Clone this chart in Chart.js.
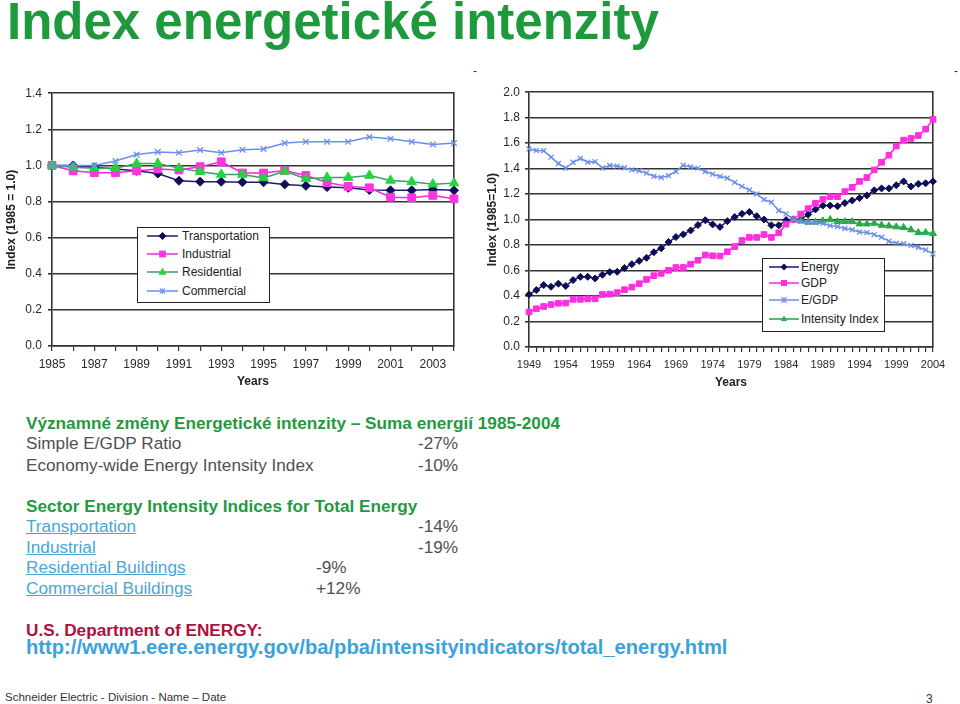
<!DOCTYPE html>
<html>
<head>
<meta charset="utf-8">
<script src="https://cdn.jsdelivr.net/npm/chart.js@4.4.1/dist/chart.umd.min.js"></script>
<style>
  html, body { margin:0; padding:0; background:#fff; }
  body { width:960px; height:704px; position:relative; overflow:hidden; font-family:"Liberation Sans", Arial, sans-serif; }
  .abs { position:absolute; white-space:nowrap; }
  .t17 { font-size:17.2px; line-height:20px; }
  .green { color:#1f9a3f; font-weight:bold; }
  .gray { color:#505050; }
  .link { color:#49a6d6; text-decoration:underline; }
  .legend { position:absolute; background:#fff; border:1px solid #222; font-size:12px; color:#222; }
  .legend .row { position:absolute; left:0; height:14px; line-height:14px; white-space:nowrap; }
  .legend svg { position:absolute; top:0; }
</style>
</head>
<body>
<div class="abs" style="left:7px;top:-7px;font-size:51px;line-height:57px;font-weight:bold;color:#1e9a3c;">Index energetické intenzity</div>
<div class="abs" style="left:473px;top:64px;font-size:12px;color:#333;">-</div>
<div class="abs" style="left:954px;top:64px;font-size:12px;color:#333;">-</div>

<div class="abs" style="left:0;top:80px;width:470px;height:312px;"><canvas id="c1" width="470" height="312"></canvas></div>
<div class="abs" style="left:476px;top:80px;width:484px;height:312px;"><canvas id="c2" width="484" height="312"></canvas></div>

<div class="legend" id="lg1" style="left:137px;top:227px;width:131px;height:74px;"></div>
<div class="legend" id="lg2" style="left:762px;top:258px;width:121px;height:72px;"></div>

<div class="abs t17 green" style="left:26px;top:413px;">Významné změny Energetické intenzity – Suma energií 1985-2004</div>
<div class="abs t17 gray" style="left:26px;top:433px;">Simple E/GDP Ratio</div>
<div class="abs t17 gray" style="left:418px;top:433px;">-27%</div>
<div class="abs t17 gray" style="left:26px;top:455px;">Economy-wide Energy Intensity Index</div>
<div class="abs t17 gray" style="left:418px;top:455px;">-10%</div>

<div class="abs t17 green" style="left:26px;top:496px;">Sector Energy Intensity Indices for Total Energy</div>
<div class="abs t17 link" style="left:26px;top:516px;">Transportation</div>
<div class="abs t17 gray" style="left:418px;top:516px;">-14%</div>
<div class="abs t17 link" style="left:26px;top:537px;">Industrial</div>
<div class="abs t17 gray" style="left:418px;top:537px;">-19%</div>
<div class="abs t17 link" style="left:26px;top:557px;">Residential Buildings</div>
<div class="abs t17 gray" style="left:316px;top:557px;">-9%</div>
<div class="abs t17 link" style="left:26px;top:578px;">Commercial Buildings</div>
<div class="abs t17 gray" style="left:316px;top:578px;">+12%</div>

<div class="abs t17" style="left:26px;top:620px;font-weight:bold;color:#b0103c;">U.S. Department of ENERGY:</div>
<div class="abs" style="left:26px;top:636px;font-size:20.2px;line-height:23px;font-weight:bold;color:#3ba2da;">http://www1.eere.energy.gov/ba/pba/intensityindicators/total_energy.html</div>

<div class="abs" style="left:5px;top:689px;font-size:11.5px;line-height:16px;color:#333;">Schneider Electric - Division - Name – Date</div>
<div class="abs" style="left:926px;top:691px;font-size:12px;line-height:16px;color:#333;">3</div>

<script>
// ---------- data: left chart (sectors, 1985 = 1.0) ----------
const sectorYears = ['1985','1986','1987','1988','1989','1990','1991','1992','1993','1994','1995','1996','1997','1998','1999','2000','2001','2002','2003','2004'];
const transportation = [1.00,1.00,0.99,0.98,0.97,0.955,0.915,0.91,0.91,0.907,0.907,0.895,0.887,0.88,0.876,0.864,0.862,0.862,0.867,0.862];
const industrial     = [1.00,0.97,0.96,0.96,0.97,0.98,0.975,0.993,1.02,0.958,0.958,0.972,0.944,0.905,0.884,0.876,0.824,0.821,0.834,0.815];
const residential    = [1.00,0.99,0.985,0.985,1.01,1.01,0.985,0.965,0.95,0.95,0.93,0.967,0.926,0.933,0.933,0.944,0.917,0.909,0.896,0.902];
const commercial     = [1.00,1.00,1.00,1.025,1.06,1.075,1.07,1.085,1.07,1.087,1.091,1.124,1.131,1.131,1.131,1.157,1.148,1.131,1.116,1.124];
const leftYTicks = [0.0,0.2,0.4,0.6,0.8,1.0,1.2,1.4];

// ---------- data: right chart (economy-wide, 1985 = 1.0) ----------
const econYears = [];
for (let y = 1949; y <= 2004; y++) econYears.push(String(y));
const energy = [0.413,0.447,0.486,0.473,0.497,0.479,0.525,0.551,0.551,0.538,
                0.567,0.588,0.59,0.62,0.65,0.676,0.70,0.744,0.775,0.824,
                0.863,0.884,0.915,0.957,0.995,0.962,0.942,0.988,1.02,1.045,
                1.06,1.027,1.0,0.955,0.955,0.996,1.0,1.0,1.04,1.08,
                1.11,1.11,1.105,1.13,1.15,1.17,1.19,1.23,1.245,1.245,
                1.27,1.30,1.26,1.28,1.285,1.30];
const gdp = [0.275,0.30,0.318,0.333,0.343,0.345,0.374,0.374,0.378,0.378,
             0.412,0.415,0.427,0.45,0.47,0.497,0.53,0.56,0.578,0.602,
             0.624,0.624,0.65,0.681,0.722,0.716,0.714,0.748,0.788,0.836,
             0.86,0.86,0.883,0.86,0.896,0.964,1.0,1.044,1.086,1.128,
             1.159,1.18,1.18,1.22,1.253,1.30,1.33,1.39,1.45,1.506,
             1.577,1.624,1.637,1.66,1.71,1.786];
const eGdp = [1.555,1.543,1.54,1.49,1.44,1.405,1.45,1.48,1.45,1.455,
              1.405,1.425,1.42,1.407,1.39,1.383,1.365,1.34,1.33,1.345,
              1.378,1.427,1.414,1.404,1.378,1.357,1.339,1.326,1.292,1.261,
              1.232,1.201,1.157,1.136,1.071,1.045,1.0,0.984,0.976,0.976,
              0.97,0.953,0.945,0.93,0.92,0.903,0.898,0.882,0.862,0.83,
              0.815,0.81,0.797,0.783,0.762,0.731];
const intensityStart = 1985;
const intensityIndex = [1.0,0.99,0.98,0.98,0.99,1.0,0.984,0.984,0.984,0.966,0.966,0.971,0.956,0.95,0.943,0.938,0.92,0.898,0.898,0.891];
const rightYTicks = [0.0,0.2,0.4,0.6,0.8,1.0,1.2,1.4,1.6,1.8,2.0];

// ---------- styling ----------
const FONT = '"Liberation Sans", Arial, sans-serif';
const GRID = '#333333';
const S = {
  transportation: {label:'Transportation', color:'#1c1c70', point:'#0d0d5a', style:'rectRot', r:4.5, rSmall:4},
  industrial:     {label:'Industrial', color:'#f02ad8', point:'#ff33e0', style:'rect', r:5.5, rSmall:4.5},
  residential:    {label:'Residential', color:'#3c9c6a', point:'#22d63a', style:'triangle', r:5.5, rSmall:4.5},
  commercial:     {label:'Commercial', color:'#6a8ff0', point:'#6a8ff0', style:'crossRot', r:4, rSmall:3.5},
  energy:         {label:'Energy', color:'#1a1a66', point:'#0d0d55', style:'rectRot', r:3.5, rSmall:3.5},
  gdp:            {label:'GDP', color:'#f02ad8', point:'#ff2fe0', style:'rect', r:4, rSmall:4},
  egdp:           {label:'E/GDP', color:'#6b8ee8', point:'#6b8ee8', style:'crossRot', r:3.5, rSmall:3.5},
  intensity:      {label:'Intensity Index', color:'#2a9d4a', point:'#2aa84a', style:'triangle', r:4, rSmall:3.5}
};

function ds(st, data) {
  return {
    label: st.label, data: data,
    borderColor: st.color, backgroundColor: st.point,
    borderWidth: 1.5, tension: 0, clip: false,
    pointStyle: st.style, pointRadius: st.r, pointHoverRadius: st.r,
    pointBackgroundColor: st.point, pointBorderColor: st.point,
    pointBorderWidth: st.style === 'crossRot' ? 1.3 : 1,
    spanGaps: false
  };
}

function makeOptions(cfg) {
  return {
    responsive: false, animation: false, devicePixelRatio: 1,
    layout: { padding: { top: 11, right: cfg.padRight, left: 0, bottom: 0 } },
    plugins: { legend: { display: false }, tooltip: { enabled: false } },
    scales: {
      x: {
        type: 'category', offset: false,
        grid: { display: true, drawOnChartArea: false, drawTicks: true, tickLength: 5, color: GRID, lineWidth: 1.2 },
        border: { display: true, color: GRID, width: 1.6 },
        ticks: {
          autoSkip: false, maxRotation: 0, minRotation: 0, padding: cfg.xPad,
          color: '#2a2a2a', font: { family: FONT, size: cfg.xFont },
          callback: function(v, i) { return (i % cfg.every === 0) ? this.getLabelForValue(v) : ''; }
        },
        title: { display: true, text: 'Years', color: '#222', font: { family: FONT, size: 12, weight: 'bold', lineHeight: 1.2 }, padding: { top: 0, bottom: cfg.xTitlePad } },
        afterFit: s => { s.height = cfg.xHeight; }
      },
      y: {
        type: 'linear', min: 0, max: cfg.yMax,
        afterBuildTicks: s => { s.ticks = cfg.yTicks.map(v => ({ value: v })); },
        grid: { display: true, drawOnChartArea: true, drawTicks: true, tickLength: 4, color: GRID, lineWidth: 1.6 },
        border: { display: true, color: GRID, width: 1.6 },
        ticks: { padding: cfg.yPad, color: '#2a2a2a', font: { family: FONT, size: 12 }, callback: v => Number(v).toFixed(1) },
        title: { display: true, text: cfg.yTitle, color: '#222', font: { family: FONT, size: 12, weight: 'bold', lineHeight: 1.2 }, padding: { top: cfg.yTitlePad, bottom: 0 } },
        afterFit: s => { s.width = cfg.yWidth; }
      },
      yR: {
        type: 'linear', position: 'right', display: true,
        grid: { display: false }, ticks: { display: false },
        border: { display: true, color: GRID, width: 1.6 },
        afterFit: s => { s.width = 0; }
      }
    }
  };
}

// left chart
new Chart(document.getElementById('c1'), {
  type: 'line',
  data: {
    labels: sectorYears,
    datasets: [
      ds(S.commercial, commercial),
      ds(S.residential, residential),
      ds(S.industrial, industrial),
      ds(S.transportation, transportation)
    ]
  },
  options: makeOptions({ padRight: 16, xPad: 6, xFont: 12, every: 2, xTitlePad: 3, xHeight: 46,
                         yMax: 1.4, yTicks: leftYTicks, yPad: 6, yTitle: 'Index (1985 = 1.0)', yTitlePad: 4, yWidth: 52 })
});

// right chart
const intensityFull = econYears.map(y => {
  const k = Number(y) - intensityStart;
  return k >= 0 && k < intensityIndex.length ? intensityIndex[k] : null;
});
const rightDs = [ds(S.egdp, eGdp), ds(S.intensity, intensityFull), ds(S.gdp, gdp), ds(S.energy, energy)];
new Chart(document.getElementById('c2'), {
  type: 'line',
  data: { labels: econYears, datasets: rightDs },
  options: makeOptions({ padRight: 27, xPad: 6, xFont: 11, every: 5, xTitlePad: 2, xHeight: 45,
                         yMax: 2.0, yTicks: rightYTicks, yPad: 5, yTitle: 'Index (1985=1.0)', yTitlePad: 9, yWidth: 53 })
});

// ---------- HTML legends ----------
const NS = 'http://www.w3.org/2000/svg';
function symbol(st, w) {
  const svg = document.createElementNS(NS, 'svg');
  svg.setAttribute('width', w); svg.setAttribute('height', 14);
  const line = document.createElementNS(NS, 'line');
  line.setAttribute('x1', 0); line.setAttribute('x2', w); line.setAttribute('y1', 7); line.setAttribute('y2', 7);
  line.setAttribute('stroke', st.color); line.setAttribute('stroke-width', 1.5);
  svg.appendChild(line);
  const cx = w / 2, cy = 7, r = st.rSmall;
  let m;
  if (st.style === 'rectRot') {
    m = document.createElementNS(NS, 'polygon');
    m.setAttribute('points', `${cx},${cy - r} ${cx + r},${cy} ${cx},${cy + r} ${cx - r},${cy}`);
    m.setAttribute('fill', st.point);
  } else if (st.style === 'rect') {
    const h = r * 0.75;
    m = document.createElementNS(NS, 'rect');
    m.setAttribute('x', cx - h); m.setAttribute('y', cy - h); m.setAttribute('width', 2 * h); m.setAttribute('height', 2 * h);
    m.setAttribute('fill', st.point);
  } else if (st.style === 'triangle') {
    m = document.createElementNS(NS, 'polygon');
    m.setAttribute('points', `${cx},${cy - r} ${cx + r * 0.9},${cy + r * 0.6} ${cx - r * 0.9},${cy + r * 0.6}`);
    m.setAttribute('fill', st.point);
  } else {
    m = document.createElementNS(NS, 'path');
    const d = r * 0.75;
    m.setAttribute('d', `M${cx - d},${cy - d}L${cx + d},${cy + d}M${cx + d},${cy - d}L${cx - d},${cy + d}M${cx},${cy - d}L${cx},${cy + d}`);
    m.setAttribute('stroke', st.point); m.setAttribute('stroke-width', 1.1); m.setAttribute('fill', 'none');
  }
  svg.appendChild(m);
  return svg;
}
function buildLegend(id, items, rowsY, lineX, lineW, textX) {
  const box = document.getElementById(id);
  items.forEach((st, i) => {
    const row = document.createElement('div');
    row.className = 'row';
    row.style.top = rowsY[i] + 'px';
    row.style.width = '100%';
    const svg = symbol(st, lineW);
    svg.style.left = lineX + 'px';
    row.appendChild(svg);
    const t = document.createElement('span');
    t.textContent = st.label;
    t.style.position = 'absolute'; t.style.left = textX + 'px';
    row.appendChild(t);
    box.appendChild(row);
  });
}
buildLegend('lg1', [S.transportation, S.industrial, S.residential, S.commercial], [1, 19, 37, 56], 9, 31, 44);
buildLegend('lg2', [S.energy, S.gdp, S.egdp, S.intensity], [1, 17, 34, 53], 6, 30, 38);
</script>
</body>
</html>
